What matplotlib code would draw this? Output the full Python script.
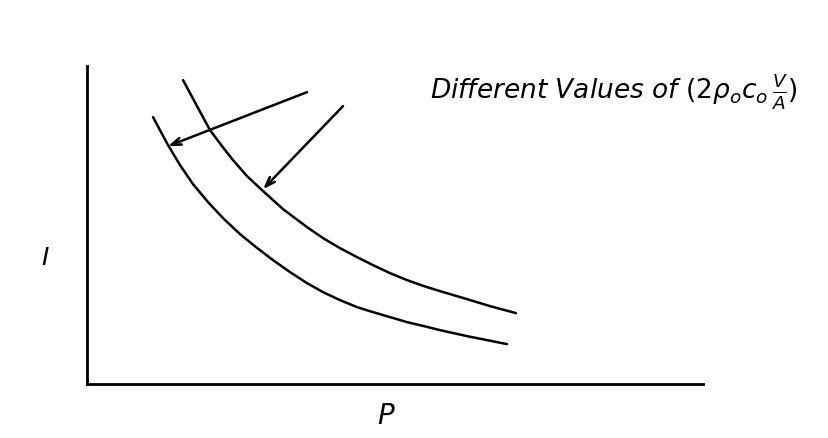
import matplotlib.pyplot as plt

# Intensity vs. pressure, two curves for different values of the parameter
# (arbitrary units, axes carry no ticks)
p_upper = [96, 103, 110, 117, 123, 135, 146, 160, 175, 196, 220, 236, 253,
           270, 286, 303, 320, 337, 353, 380, 403, 429]
i_upper = [304, 291, 278, 265, 254, 238, 224, 208, 194, 175, 157, 146, 136,
           127, 119, 111, 104, 98, 93, 85, 78, 71]

p_lower = [66, 74, 81, 93, 106, 121, 136, 153, 169, 186, 203, 220, 236, 253,
           270, 286, 303, 320, 337, 353, 380, 400, 420]
i_lower = [267, 252, 239, 219, 200, 182, 166, 150, 137, 124, 112, 101, 92, 84,
           77, 72, 67, 62, 58, 54, 48, 44, 40]

# arrow tails and the curve points they point at
arrow_tails = [(220, 292), (256, 278)]
arrow_heads = [(81, 238), (176, 195)]

note = r"Different Values of $(2\rho_o c_o\,\frac{V}{A})$"

fig = plt.figure(figsize=(8.29, 4.38), dpi=100)
ax = fig.add_axes([0.105, 0.123, 0.743, 0.726])

ax.plot(p_upper, i_upper, color='black', linewidth=1.8,
        solid_capstyle='round', solid_joinstyle='round')
ax.plot(p_lower, i_lower, color='black', linewidth=1.8,
        solid_capstyle='round', solid_joinstyle='round')

for tail, head in zip(arrow_tails, arrow_heads):
    ax.annotate('', xy=head, xytext=tail,
                arrowprops=dict(arrowstyle='->,head_length=0.7,head_width=0.25',
                                color='black', lw=1.8, shrinkA=0, shrinkB=0))

ax.text(343, 292, note, fontsize=19, style='italic', va='center', ha='left')

ax.set_xlim(0, 616)
ax.set_ylim(0, 318)
for side in ['top', 'right']:
    ax.spines[side].set_visible(False)
for side in ['left', 'bottom']:
    ax.spines[side].set_linewidth(2)
ax.set_xticks([])
ax.set_yticks([])

fig.text(45 / 829, 1 - 258 / 438, 'I', fontsize=18, style='italic',
         ha='center', va='center')
fig.text(386 / 829, 1 - 416 / 438, 'P', fontsize=20, style='italic',
         ha='center', va='center')

fig.savefig('out.png', dpi=100, facecolor='white')
